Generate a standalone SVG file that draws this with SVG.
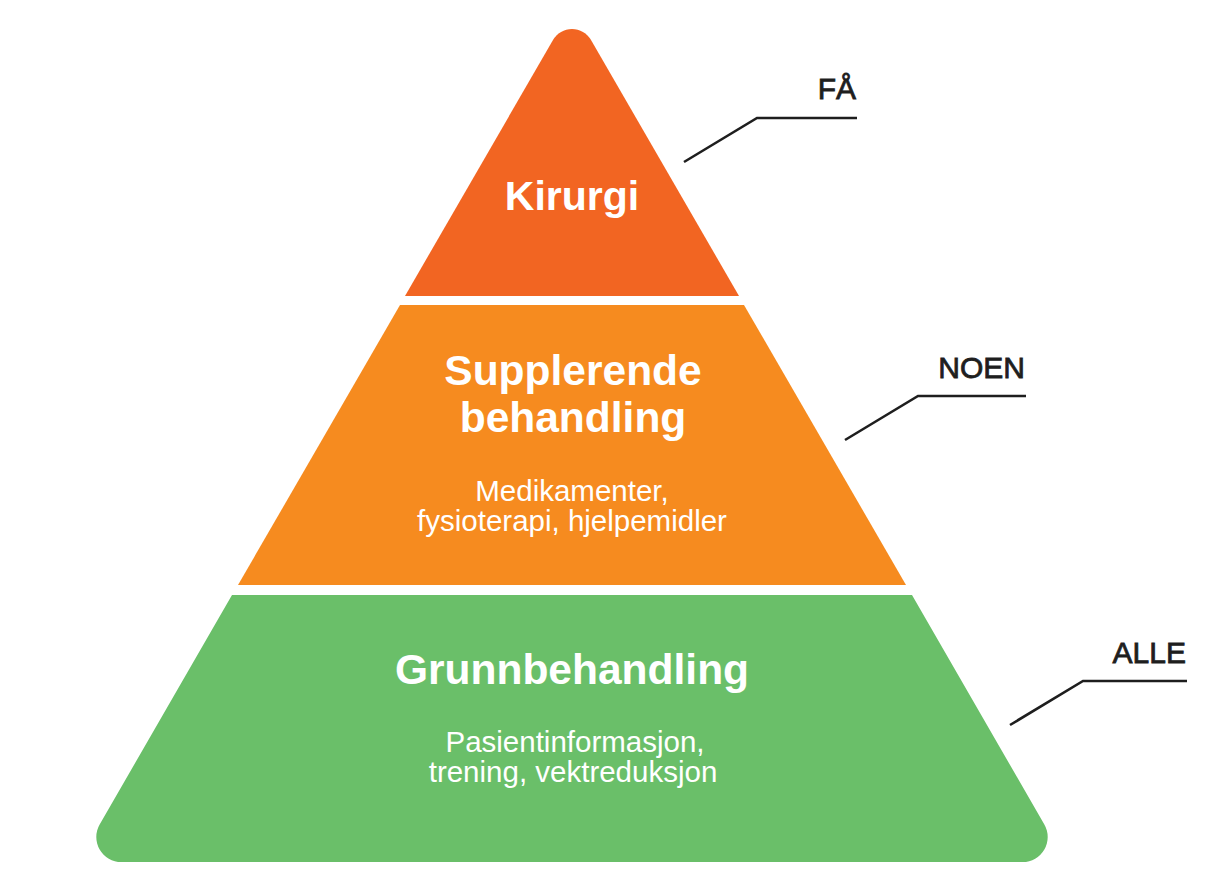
<svg xmlns="http://www.w3.org/2000/svg" width="1216" height="872" viewBox="0 0 1216 872">
  <style>
    .title { font-family: "Liberation Sans", Arial, sans-serif; font-weight: bold; font-size: 42.5px; fill: #ffffff; text-anchor: middle; }
    .sub { font-family: "Liberation Sans", Arial, sans-serif; font-size: 29.5px; fill: #ffffff; text-anchor: middle; }
    .lbl { font-family: "Liberation Sans", Arial, sans-serif; font-size: 30px; fill: #1e1e1e; stroke: #1e1e1e; stroke-width: 0.8; text-anchor: end; }
    .conn { fill: none; stroke: #1e1e1e; stroke-width: 2.6; }
  </style>
  <rect width="1216" height="872" fill="#ffffff"/>
  <g id="tier-kirurgi">
    <path d="M405 296 L553 40 A22 22 0 0 1 591 40 L739 296 Z" fill="#F26522"/>
    <text class="title" x="572" y="210" style="font-size:41px">Kirurgi</text>
  </g>
  <g id="tier-supplerende">
    <path d="M400 305 L744 305 L906 585 L238 585 Z" fill="#F68B1F"/>
    <text class="title" x="573" y="385">Supplerende</text>
    <text class="title" x="573" y="432">behandling</text>
    <text class="sub" x="572" y="501">Medikamenter,</text>
    <text class="sub" x="572" y="531">fysioterapi, hjelpemidler</text>
  </g>
  <g id="tier-grunnbehandling">
    <path d="M232 595 L912 595 L1044.35 824.5 A25 25 0 0 1 1022.7 862 L121.3 862 A25 25 0 0 1 99.65 824.5 Z" fill="#6ABF69"/>
    <text class="title" x="572" y="684">Grunnbehandling</text>
    <text class="sub" x="575" y="752">Pasientinformasjon,</text>
    <text class="sub" x="573" y="782">trening, vektreduksjon</text>
  </g>
  <g id="label-fa">
    <text class="lbl" x="856" y="99">FÅ</text>
  </g>
  <g id="label-noen">
    <text class="lbl" x="1025" y="378">NOEN</text>
  </g>
  <g id="label-alle">
    <text class="lbl" x="1186" y="663">ALLE</text>
  </g>
  <g id="connectors">
    <polyline class="conn" points="684,162 757,118 857,118"/>
    <polyline class="conn" points="845,440 918,396 1026,396"/>
    <polyline class="conn" points="1010,725 1083,681 1187,681"/>
  </g>
</svg>
